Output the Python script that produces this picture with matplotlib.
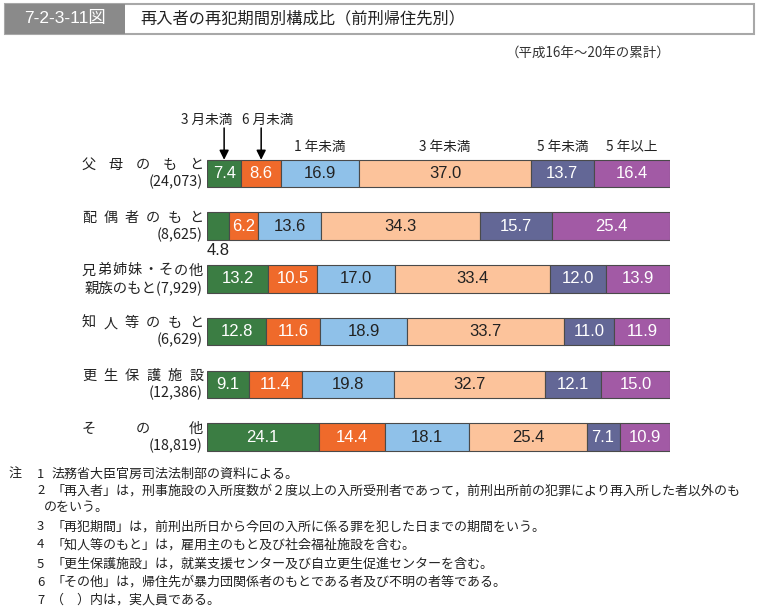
import matplotlib
matplotlib.use('Agg')
import matplotlib.pyplot as plt
from matplotlib.patches import Rectangle
from matplotlib.transforms import blended_transform_factory
from matplotlib import font_manager

plt.rcParams['font.family'] = ['Noto Sans CJK JP', 'DejaVu Sans']

# データ
label_line1 = ['父母のもと', '配偶者のもと', '兄弟姉妹・その他', '知人等のもと', '更生保護施設', 'その他']
label_line2 = ['(24,073)', '(8,625)', '親族のもと(7,929)', '(6,629)', '(12,386)', '(18,819)']
periods = ['3 月未満', '6 月未満', '1 年未満', '3 年未満', '5 年未満', '5 年以上']

v_3m = [7.4, 4.8, 13.2, 12.8, 9.1, 24.1]
v_6m = [8.6, 6.2, 10.5, 11.6, 11.4, 14.4]
v_1y = [16.9, 13.6, 17.0, 18.9, 19.8, 18.1]
v_3y = [37.0, 34.3, 33.4, 33.7, 32.7, 25.4]
v_5y = [13.7, 15.7, 12.0, 11.0, 12.1, 7.1]
v_over = [16.4, 25.4, 13.9, 11.9, 15.0, 10.9]
series = [v_3m, v_6m, v_1y, v_3y, v_5y, v_over]

colors = ['#3b7d43', '#ef6a2b', '#8fc1e9', '#fcc39b', '#636796', '#a25aa5']
txt_colors = ['white', 'white', '#222222', '#222222', 'white', 'white']

notes = [
    ('1', '法務省大臣官房司法法制部の資料による。'),
    ('2', '「再入者」は，刑事施設の入所度数が２度以上の入所受刑者であって，前刑出所前の犯罪により再入所した者以外のも'),
    ('', 'のをいう。'),
    ('3', '「再犯期間」は，前刑出所日から今回の入所に係る罪を犯した日までの期間をいう。'),
    ('4', '「知人等のもと」は，雇用主のもと及び社会福祉施設を含む。'),
    ('5', '「更生保護施設」は，就業支援センター及び自立更生促進センターを含む。'),
    ('6', '「その他」は，帰住先が暴力団関係者のもとである者及び不明の者等である。'),
    ('7', '（　）内は，実人員である。'),
]

W, H = 759, 611
fig = plt.figure(figsize=(W / 100, H / 100), dpi=100)

def fx(x):
    return x / W

def fy(y):
    return 1 - y / H

num_font = 'Liberation Sans Narrow'
if num_font not in {f.name for f in font_manager.fontManager.ttflist}:
    num_font = 'Liberation Sans'

# タイトル枠
fig.patches.append(Rectangle((fx(5), fy(34)), fx(749), 30 / H, transform=fig.transFigure,
                             facecolor='white', edgecolor='#a8a8a8', lw=1.5))
fig.patches.append(Rectangle((fx(5), fy(34)), fx(120), 30 / H, transform=fig.transFigure,
                             facecolor='#8a8a8a', edgecolor='none'))
fig.text(fx(65), fy(19), '7-2-3-11図', color='white', fontsize=12.5, ha='center', va='center',
         family=[num_font, 'Noto Sans CJK JP'])
fig.text(fx(140), fy(19), '再入者の再犯期間別構成比（前刑帰住先別）', fontsize=11.7,
         ha='left', va='center', color='#222222')
fig.text(fx(670), fy(53), '（平成16年～20年の累計）', fontsize=9.7, ha='right', va='center',
         color='#333333')

# 棒グラフ
row_px = 52.7
row0 = 173.5
ax_top, ax_bot = 110, 470
ax = fig.add_axes([fx(207), fy(ax_bot), (670 - 207) / W, (ax_bot - ax_top) / H])
ax.set_xlim(0, 100)
ax.set_ylim((ax_bot - row0) / row_px, (ax_top - row0) / row_px)
ax.axis('off')

bar_h = 0.52
ypos = list(range(len(label_line1)))
left = [0.0] * len(ypos)
for vals, c, tc in zip(series, colors, txt_colors):
    ax.barh(ypos, vals, left=left, height=bar_h, color=c, edgecolor='#4a4a4a', lw=0.8)
    for i, v in enumerate(vals):
        cx = left[i] + v / 2
        if v < 5:
            ax.text(cx, i + bar_h / 2 + 0.2, f'{v:.1f}', ha='center', va='center',
                    fontsize=12, color='#222222', family=num_font)
        else:
            ax.text(cx, i, f'{v:.1f}', ha='center', va='center', fontsize=12,
                    color=tc, family=num_font)
    left = [l + v for l, v in zip(left, vals)]

# 期間の見出し（1行目の区分の上）
starts = [0.0]
for vals in series[:-1]:
    starts.append(starts[-1] + vals[0])
centers = [s + vals[0] / 2 for s, vals in zip(starts, series)]
top0 = -bar_h / 2
for k in range(2, 6):
    ax.text(centers[k], (147 - row0) / row_px, periods[k], ha='center', va='center',
            fontsize=9.8, color='#222222', clip_on=False)
for k in range(2):
    ax.annotate('', xy=(centers[k], top0), xytext=(centers[k], (128 - row0) / row_px),
                arrowprops=dict(arrowstyle='-|>', color='black', lw=1.1, mutation_scale=14,
                                shrinkA=0, shrinkB=0), annotation_clip=False)
ax.text(centers[0] + 8 / 4.63, (120 - row0) / row_px, periods[0], ha='right', va='center',
        fontsize=9.8, color='#222222', clip_on=False)
ax.text(centers[1] - 19 / 4.63, (120 - row0) / row_px, periods[1], ha='left', va='center',
        fontsize=9.8, color='#222222', clip_on=False)

# 区分ラベル
tr = blended_transform_factory(fig.transFigure, ax.transData)
x_l, x_r, cw = 82, 203, 13.8
off = 8.5 / row_px
for i, (l1, l2) in enumerate(zip(label_line1, label_line2)):
    n = len(l1)
    step = (x_r - x_l - cw) / (n - 1)
    for j, ch in enumerate(l1):
        fig.text(fx(x_l + cw / 2 + j * step), i - off, ch, transform=tr, ha='center',
                 va='center', fontsize=10.2, color='#222222')
    fig.text(fx(x_r), i + off, l2, transform=tr, ha='right', va='center', fontsize=10.4,
             color='#222222')

# 注
nfs = 9.4
ny = [474, 491, 508, 527, 545, 564, 582, 600]
fig.text(fx(8), fy(ny[0]), '注', fontsize=nfs, ha='left', va='center', color='#222222')
for (num, txt), y in zip(notes, ny):
    if num:
        fig.text(fx(37), fy(y), num, fontsize=nfs, ha='left', va='center', color='#222222')
        fig.text(fx(51), fy(y), txt, fontsize=nfs, ha='left', va='center', color='#222222')
    else:
        fig.text(fx(44), fy(y), txt, fontsize=nfs, ha='left', va='center', color='#222222')

fig.savefig('out.png', dpi=100)
